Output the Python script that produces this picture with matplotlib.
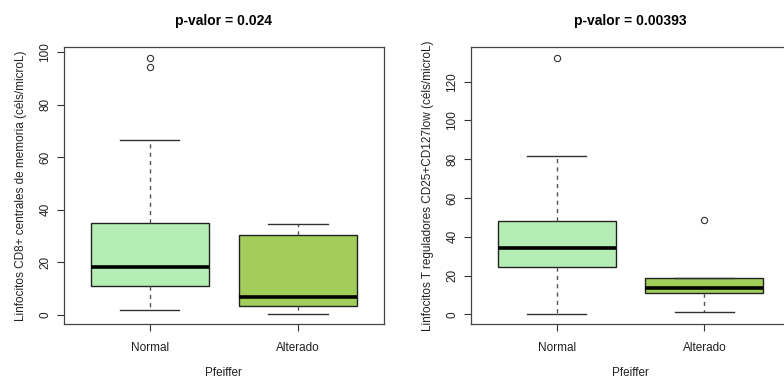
import matplotlib
matplotlib.use("Agg")
import matplotlib.pyplot as plt

plt.rcParams['font.family'] = ['Liberation Sans', 'DejaVu Sans']

groups = ["Normal", "Alterado"]
colors = ["#B4EEB4", "#A2CD5A"]

# five-number summaries: low whisker, Q1, median, Q3, high whisker
cd8_low = [1.9, 0.5]
cd8_q1 = [10.9, 3.4]
cd8_med = [18.4, 6.9]
cd8_q3 = [34.9, 30.3]
cd8_high = [66.5, 34.6]
cd8_out = [[94.2, 97.7], []]

treg_low = [0.3, 1.4]
treg_q1 = [24.2, 10.8]
treg_med = [34.4, 13.6]
treg_q3 = [48.0, 18.8]
treg_high = [81.5, 18.8]
treg_out = [[132.2], [48.8]]


def make_stats(low, q1, med, q3, high, out):
    return [dict(whislo=low[i], q1=q1[i], med=med[i], q3=q3[i], whishi=high[i],
                 fliers=out[i], label=groups[i]) for i in range(len(groups))]


def draw(ax, stats, title, ylabel, yticks, ylim):
    bp = ax.bxp(stats, positions=[1, 2], widths=0.8, patch_artist=True,
                boxprops=dict(edgecolor="#222222", linewidth=1.0),
                medianprops=dict(color="black", linewidth=2.6, solid_capstyle="butt"),
                whiskerprops=dict(color="#555555", linestyle=(0, (3, 3)), linewidth=1.0),
                capprops=dict(color="#333333", linewidth=1.0),
                capwidths=0.4,
                flierprops=dict(marker="o", markersize=4.5, markerfacecolor="none",
                                markeredgecolor="#333333", markeredgewidth=0.8))
    for patch, c in zip(bp["boxes"], colors):
        patch.set_facecolor(c)
    ax.set_xlim(0.42, 2.58)
    ax.set_ylim(*ylim)
    ax.set_yticks(yticks)
    ax.set_yticklabels([str(t) for t in yticks], rotation=90, va="center")
    ax.set_xticks([1, 2])
    ax.set_xticklabels(groups)
    ax.tick_params(direction="out", length=5, width=0.8, colors="#333333",
                   labelcolor="#222222", labelsize=8.5, pad=4)
    ax.tick_params(axis="x", pad=8)
    for s in ax.spines.values():
        s.set_color("#444444")
        s.set_linewidth(0.9)
    ax.set_title(title, fontweight="bold", fontsize=10, pad=16)
    ax.set_xlabel("Pfeiffer", fontsize=8.5, color="#222222", labelpad=9)
    ax.set_ylabel(ylabel, fontsize=8.5, color="#222222", labelpad=9)


fig = plt.figure(figsize=(7.84, 3.79), dpi=100)
ax1 = fig.add_axes([0.0816, 0.1451, 0.408, 0.7309])
ax2 = fig.add_axes([0.6008, 0.1451, 0.4069, 0.7309])

draw(ax1, make_stats(cd8_low, cd8_q1, cd8_med, cd8_q3, cd8_high, cd8_out),
     "p-valor = 0.024", "Linfocitos CD8+ centrales de memoria (céls/microL)",
     [0, 20, 40, 60, 80, 100], (-3.4, 101.9))
draw(ax2, make_stats(treg_low, treg_q1, treg_med, treg_q3, treg_high, treg_out),
     "p-valor = 0.00393", "Linfocitos T reguladores CD25+CD127low (céls/microL)",
     [0, 20, 40, 60, 80, 100, 120], (-5.0, 137.9))

fig.savefig("out.png", dpi=100)
